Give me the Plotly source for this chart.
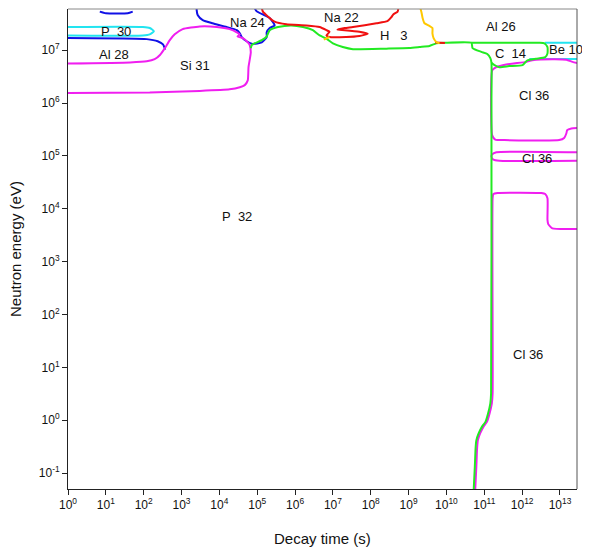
import plotly.graph_objects as go

# All values are log10(decay time [s]) and log10(neutron energy [eV])
blue_top_x = [0.84, 1.00, 1.58, 1.71]
blue_top_y = [7.73, 7.70, 7.70, 7.73]

cyan_p30_x = [0.00, 1.98, 2.16, 2.27, 2.16, 1.98, 0.00]
cyan_p30_y = [7.44, 7.44, 7.42, 7.36, 7.30, 7.28, 7.28]

blue_al28_x = [0.00, 2.08, 2.37, 2.51, 2.57]
blue_al28_y = [7.23, 7.21, 7.17, 7.11, 7.01]

magenta_si31_x = [0.00, 1.64, 2.08, 2.29, 2.43, 2.56, 2.69, 2.82, 3.03, 3.48, 3.93, 4.27, 4.46, 4.54,
                  4.48, 4.62, 4.75, 4.80, 4.83, 4.77, 4.75, 4.67, 4.54, 4.27, 3.48, 2.16, 0.00]
magenta_si31_y = [6.75, 6.77, 6.79, 6.83, 6.91, 7.04, 7.19, 7.30, 7.40, 7.45, 7.44, 7.40, 7.34, 7.30,
                  7.26, 7.23, 7.15, 7.10, 6.96, 6.68, 6.43, 6.34, 6.30, 6.26, 6.23, 6.20, 6.19]

blue_na24_x = [3.40, 3.40, 3.43, 3.56, 3.82, 4.19, 4.46, 4.54, 4.59, 4.72, 4.88, 5.12, 5.25, 5.25,
               5.33, 5.46, 5.33, 5.20, 4.98, 4.93]
blue_na24_y = [7.80, 7.76, 7.66, 7.57, 7.51, 7.44, 7.38, 7.32, 7.25, 7.17, 7.12, 7.15, 7.25, 7.34,
               7.42, 7.47, 7.61, 7.66, 7.74, 7.80]

red_na22_x = [5.12, 5.15, 5.28, 5.46, 5.77, 6.30, 6.65, 6.83, 6.91, 6.83, 6.91, 7.35, 7.70, 7.92,
              7.70, 7.31, 7.12, 7.31, 7.53, 8.15, 8.44, 8.54, 8.60, 8.71, 8.73]
red_na22_y = [7.80, 7.73, 7.64, 7.54, 7.49, 7.47, 7.44, 7.38, 7.35, 7.28, 7.25, 7.25, 7.27, 7.31,
              7.35, 7.38, 7.39, 7.42, 7.44, 7.51, 7.55, 7.62, 7.68, 7.73, 7.80]

yellow_h3_x = [9.31, 9.34, 9.37, 9.42, 9.55, 9.63, 9.63, 9.66, 9.74, 9.82]
yellow_h3_y = [7.80, 7.72, 7.61, 7.51, 7.46, 7.42, 7.32, 7.23, 7.15, 7.13]

yellow_small_x = [6.76, 6.91]
yellow_small_y = [7.20, 7.25]

red_small_x = [9.70, 9.96]
red_small_y = [7.145, 7.135]

green_main_x = [4.83, 4.86, 4.93, 5.12, 5.24, 5.33, 5.55, 5.90, 6.21, 6.47, 6.65, 6.83, 7.00, 7.26,
                7.53, 8.41, 9.02, 9.29, 9.55, 9.73, 9.95, 10.66, 10.69, 10.92, 11.08, 11.16, 11.19,
                11.19, 11.18, 11.16, 11.10, 11.03, 10.94, 10.85, 10.79, 10.77, 10.75, 10.72]
green_main_y = [7.04, 7.10, 7.13, 7.19, 7.25, 7.38, 7.44, 7.47, 7.44, 7.38, 7.28, 7.22, 7.13, 7.06,
                7.02, 7.03, 7.04, 7.06, 7.08, 7.13, 7.14, 7.14, 7.04, 6.97, 6.93, 6.85, 6.76,
                6.06, 0.51, 0.32, 0.13, -0.03, -0.12, -0.25, -0.38, -0.53, -0.88, -1.32]

green_c14_x = [11.19, 11.27, 11.40, 11.66, 12.01, 12.14, 12.37, 12.61, 12.67, 12.67, 12.59, 12.45, 10.66]
green_c14_y = [6.76, 6.72, 6.68, 6.70, 6.72, 6.81, 6.84, 6.87, 6.94, 7.06, 7.13, 7.14, 7.14]

cyan_be10_top_x = [12.60, 13.50]
cyan_be10_top_y = [7.14, 7.14]
cyan_be10_bot_x = [12.19, 13.50]
cyan_be10_bot_y = [6.835, 6.835]

magenta_cl36a_x = [13.50, 13.33, 13.17, 12.80, 12.27, 12.11, 11.58, 11.32, 11.21, 11.21, 11.29, 11.53,
                   12.98, 13.11, 13.17, 13.19, 13.30, 13.50]
magenta_cl36a_y = [6.75, 6.78, 6.82, 6.83, 6.81, 6.78, 6.73, 6.68, 6.62, 5.39, 5.31, 5.30,
                   5.30, 5.34, 5.43, 5.49, 5.52, 5.53]

magenta_cl36b_x = [13.50, 11.32, 11.21, 11.19, 11.24, 11.40, 13.50]
magenta_cl36b_y = [5.07, 5.07, 5.03, 4.99, 4.93, 4.91, 4.91]

magenta_cl36c_x = [13.50, 12.80, 12.69, 12.67, 12.67, 12.61, 12.51, 11.35, 11.24, 11.22, 11.22, 11.20,
                   11.14, 11.07, 10.98, 10.89, 10.83, 10.81, 10.79, 10.76]
magenta_cl36c_y = [3.62, 3.63, 3.71, 3.79, 4.20, 4.28, 4.30, 4.30, 4.28, 4.20, 0.51, 0.32,
                   0.13, -0.03, -0.12, -0.25, -0.38, -0.53, -0.88, -1.32]

label_text = ["P\u00a0\u00a030", "Al 28", "Si 31", "Na 24", "Na 22", "H\u00a0\u00a0\u00a03", "Al 26",
              "C\u00a0\u00a014", "Be 10", "Cl 36", "Cl 36", "P\u00a0\u00a032", "Cl 36"]
label_x = [1.27, 1.21, 3.35, 4.75, 7.23, 8.60, 11.45, 11.69, 13.15, 12.31, 12.38, 4.46, 12.16]
label_y = [7.35, 6.91, 6.72, 7.52, 7.61, 7.27, 7.45, 6.94, 7.02, 6.15, 4.96, 3.86, 1.25]

x_decades = list(range(0, 14))
y_decades = list(range(-1, 8))

BLUE = "#1010E6"
CYAN = "#22E4F0"
MAGENTA = "#F01EF0"
GREEN = "#22EA22"
RED = "#F01010"
YELLOW = "#FFC800"

fig = go.Figure()

def add(xs, ys, color, width=2):
    fig.add_trace(go.Scatter(
        x=[10 ** v for v in xs], y=[10 ** v for v in ys], mode="lines",
        line=dict(color=color, width=width, shape="spline", smoothing=0.5),
        hoverinfo="skip", showlegend=False))

add(cyan_p30_x, cyan_p30_y, CYAN)
add(cyan_be10_top_x, cyan_be10_top_y, CYAN)
add(cyan_be10_bot_x, cyan_be10_bot_y, CYAN)
add(blue_top_x, blue_top_y, BLUE)
add(blue_al28_x, blue_al28_y, BLUE)
add(blue_na24_x, blue_na24_y, BLUE)
add(magenta_si31_x, magenta_si31_y, MAGENTA)
add(magenta_cl36a_x, magenta_cl36a_y, MAGENTA)
add(magenta_cl36b_x, magenta_cl36b_y, MAGENTA)
add(magenta_cl36c_x, magenta_cl36c_y, MAGENTA)
add(green_main_x, green_main_y, GREEN)
add(green_c14_x, green_c14_y, GREEN)
add(red_na22_x, red_na22_y, RED)
add(red_small_x, red_small_y, RED)
add(yellow_h3_x, yellow_h3_y, YELLOW)
add(yellow_small_x, yellow_small_y, YELLOW)

FONT = "Liberation Sans, Arial, sans-serif"

for t, lx, ly in zip(label_text, label_x, label_y):
    fig.add_annotation(x=lx, y=ly, xref="x", yref="y", text=t, showarrow=False,
                       font=dict(family=FONT, size=13, color="#111"))

fig.add_annotation(x=0.5, y=0, xref="paper", yref="paper", yshift=-49, text="Decay time (s)",
                   showarrow=False, font=dict(family=FONT, size=15, color="#111"), yanchor="middle")
fig.add_annotation(x=0, y=0.5, xref="paper", yref="paper", xshift=-53, text="Neutron energy (eV)",
                   showarrow=False, textangle=-90, font=dict(family=FONT, size=15, color="#111"),
                   xanchor="center")

fig.add_shape(type="line", xref="paper", yref="paper", x0=0, x1=1, y0=1, y1=1,
              line=dict(color="#888", width=1))
fig.add_shape(type="line", xref="paper", yref="paper", x0=1, x1=1, y0=0, y1=1,
              line=dict(color="#555", width=1))

# the page body adds an 8px offset, so the figure is 8px smaller on each axis
fig.update_layout(
    width=582, height=543,
    margin=dict(l=60, r=13, t=1, b=62, autoexpand=False),
    paper_bgcolor="white", plot_bgcolor="white",
    font=dict(family=FONT, size=12, color="#111"),
    xaxis=dict(type="log", range=[0, 13.45],
               tickvals=[10 ** d for d in x_decades],
               ticktext=[f"10<sup>{d}</sup>" for d in x_decades],
               ticks="outside", ticklen=5, tickcolor="#222",
               showline=True, linecolor="#222", linewidth=1,
               showgrid=False, zeroline=False, tickfont=dict(size=12)),
    yaxis=dict(type="log", range=[-1.30, 7.78],
               tickvals=[10 ** d for d in y_decades],
               ticktext=[f"10<sup>{d}</sup>" for d in y_decades],
               ticks="outside", ticklen=5, tickcolor="#222",
               showline=True, linecolor="#222", linewidth=1,
               showgrid=False, zeroline=False, tickfont=dict(size=12)),
)

fig.write_html("out.html")
